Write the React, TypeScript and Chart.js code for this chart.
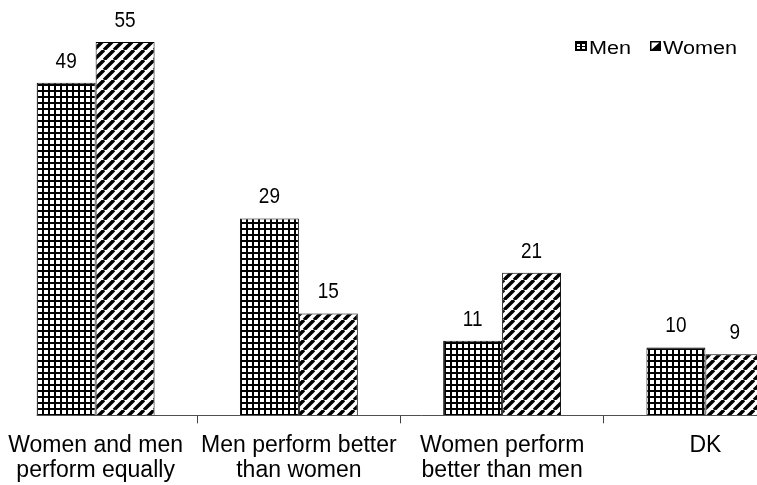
import React, { useEffect, useRef } from "react";
import { Chart, registerables } from "chart.js";

Chart.register(...registerables);

// Survey answers, percent of respondents
const categories: string[][] = [
  ["Women and men", "perform equally"],
  ["Men perform better", "than women"],
  ["Women perform", "better than men"],
  ["DK"],
];
const seriesNames: string[] = ["Men", "Women"];
const menValues: number[] = [49, 29, 11, 10];
const womenValues: number[] = [55, 15, 21, 9];
const valueAxisMax = 60;

const FONT = '"Liberation Sans", Arial, Helvetica, sans-serif';
const CANVAS_W = 813;
const CANVAS_H = 485;
const CANVAS_LEFT = -6;

function makeGridPattern(ctx: CanvasRenderingContext2D): CanvasPattern {
  const c = document.createElement("canvas");
  c.width = 6;
  c.height = 6;
  const g = c.getContext("2d")!;
  g.fillStyle = "#ffffff";
  g.fillRect(0, 0, 6, 6);
  g.fillStyle = "#000000";
  g.fillRect(0, 0, 6, 2);
  g.fillRect(0, 0, 2, 6);
  return ctx.createPattern(c, "repeat")!;
}

function makeHatchPattern(ctx: CanvasRenderingContext2D): CanvasPattern {
  const c = document.createElement("canvas");
  c.width = 10;
  c.height = 10;
  const g = c.getContext("2d")!;
  g.fillStyle = "#ffffff";
  g.fillRect(0, 0, 10, 10);
  g.strokeStyle = "#000000";
  g.lineWidth = 3.4;
  g.beginPath();
  for (const k of [-10, 0, 10]) {
    g.moveTo(k, 10);
    g.lineTo(k + 10, 0);
  }
  g.stroke();
  return ctx.createPattern(c, "repeat")!;
}

// Baseline, value labels above each bar and the legend in the top right corner
const decorations = {
  id: "decorations",
  afterDatasetsDraw(chart: any) {
    const ctx: CanvasRenderingContext2D = chart.ctx;
    const area = chart.chartArea;

    // category axis line, starting at the left edge of the first bar
    const first = chart.getDatasetMeta(0).data[0];
    const y0 = Math.round(area.bottom) + 0.5;
    ctx.save();
    ctx.strokeStyle = "#505050";
    ctx.lineWidth = 1;
    ctx.beginPath();
    ctx.moveTo(first.x - first.width / 2, y0);
    ctx.lineTo(area.right, y0);
    ctx.stroke();
    ctx.restore();

    // value labels
    chart.data.datasets.forEach((ds: any, i: number) => {
      const meta = chart.getDatasetMeta(i);
      meta.data.forEach((bar: any, j: number) => {
        ctx.save();
        ctx.translate(bar.x, bar.y - 15);
        ctx.scale(1, 1.15);
        ctx.font = `19px ${FONT}`;
        ctx.fillStyle = "#000000";
        ctx.textAlign = "center";
        ctx.textBaseline = "alphabetic";
        ctx.fillText(String(ds.data[j]), 0, 0);
        ctx.restore();
      });
    });

    // legend
    const lx = 581;
    const iconTop = 41;
    const baseline = 53.5;
    ctx.save();
    ctx.font = `18px ${FONT}`;
    ctx.textBaseline = "alphabetic";
    ctx.textAlign = "left";
    // Men swatch
    ctx.fillStyle = "#000000";
    ctx.fillRect(lx, iconTop, 12, 10);
    ctx.fillStyle = "#ffffff";
    ctx.fillRect(lx + 2, iconTop + 3, 3, 2);
    ctx.fillRect(lx + 7, iconTop + 3, 3, 2);
    ctx.fillRect(lx + 2, iconTop + 6, 3, 2);
    ctx.fillRect(lx + 7, iconTop + 6, 3, 2);
    ctx.fillStyle = "#000000";
    ctx.save();
    ctx.translate(lx + 14, baseline);
    ctx.scale(1.2, 1);
    ctx.fillText(seriesNames[0], 0, 0);
    ctx.restore();
    // Women swatch
    const wx = 656;
    ctx.fillStyle = "#ffffff";
    ctx.fillRect(wx, iconTop, 11, 10);
    ctx.fillStyle = "#000000";
    ctx.beginPath();
    ctx.moveTo(wx + 11, iconTop);
    ctx.lineTo(wx + 11, iconTop + 10);
    ctx.lineTo(wx, iconTop + 10);
    ctx.closePath();
    ctx.fill();
    ctx.strokeStyle = "#000000";
    ctx.lineWidth = 1.5;
    ctx.strokeRect(wx + 0.75, iconTop + 0.75, 9.5, 8.5);
    ctx.fillStyle = "#000000";
    ctx.save();
    ctx.translate(wx + 13, baseline);
    ctx.scale(1.2, 1);
    ctx.fillText(seriesNames[1], 0, 0);
    ctx.restore();
    ctx.restore();
  },
};

export default function App() {
  const canvasRef = useRef<HTMLCanvasElement | null>(null);

  useEffect(() => {
    const canvas = canvasRef.current;
    if (!canvas) return;
    const ctx = canvas.getContext("2d")!;
    const gridFill = makeGridPattern(ctx);
    const hatchFill = makeHatchPattern(ctx);

    const chart = new Chart(ctx, {
      type: "bar",
      data: {
        labels: categories,
        datasets: [
          {
            label: seriesNames[0],
            data: menValues,
            backgroundColor: gridFill,
            borderColor: "#000000",
            borderWidth: 1,
            categoryPercentage: 0.58,
            barPercentage: 1,
          },
          {
            label: seriesNames[1],
            data: womenValues,
            backgroundColor: hatchFill,
            borderColor: "#000000",
            borderWidth: 1,
            categoryPercentage: 0.58,
            barPercentage: 1,
          },
        ],
      },
      options: {
        animation: false,
        responsive: false,
        devicePixelRatio: 1,
        layout: { padding: { top: 8, bottom: -8, left: 0, right: 0 } },
        scales: {
          x: {
            offset: true,
            grid: {
              offset: true,
              drawOnChartArea: false,
              drawTicks: true,
              tickLength: 8,
              color: "#404040",
              lineWidth: 1,
            },
            border: { display: false },
            ticks: {
              color: "#000000",
              padding: 10,
              maxRotation: 0,
              autoSkip: false,
              font: { family: FONT, size: 23, lineHeight: 1.08 },
            },
          },
          y: { display: false, min: 0, max: valueAxisMax },
        },
        plugins: {
          legend: { display: false },
          tooltip: { enabled: false },
        },
      },
      plugins: [decorations],
    });

    return () => chart.destroy();
  }, []);

  return (
    <div
      style={{
        position: "fixed",
        left: 0,
        top: 0,
        width: 757,
        height: 485,
        overflow: "hidden",
        background: "#ffffff",
      }}
    >
      <canvas
        ref={canvasRef}
        width={CANVAS_W}
        height={CANVAS_H}
        style={{ position: "absolute", left: CANVAS_LEFT, top: 0, width: CANVAS_W, height: CANVAS_H }}
      />
    </div>
  );
}
